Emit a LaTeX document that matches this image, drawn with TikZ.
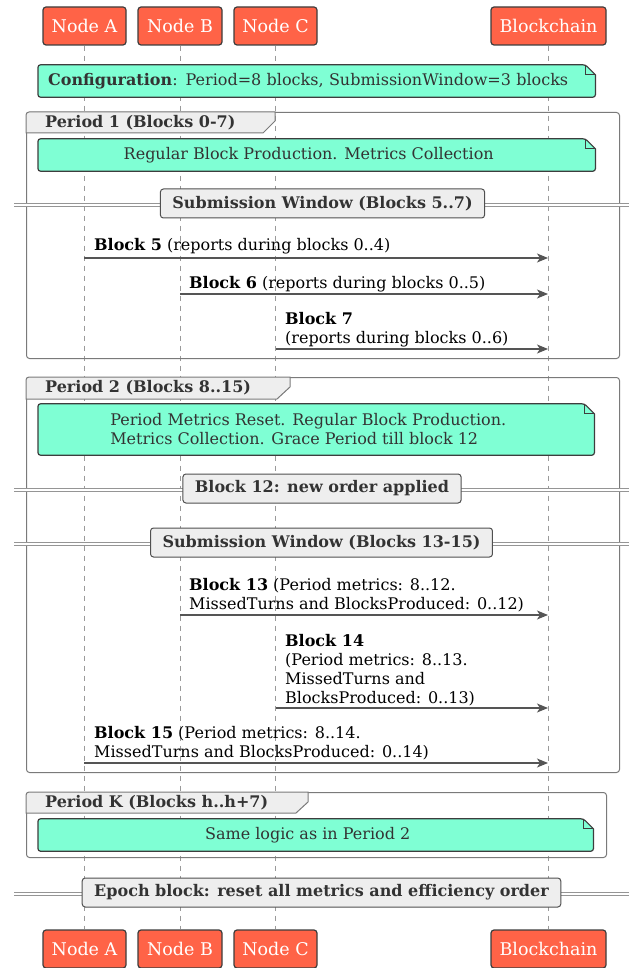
\documentclass[tikz,border=0pt]{standalone}
\usepackage{fontspec}
\setmainfont{DejaVu Serif}
\usetikzlibrary{arrows.meta}
\definecolor{tomatoc}{HTML}{FF6347}
\definecolor{aqua}{HTML}{7FFFD4}
\definecolor{divfill}{HTML}{EEEEEE}
\definecolor{edgec}{HTML}{3D3D3D}
\definecolor{framec}{HTML}{7A7A7A}
\definecolor{lifec}{HTML}{9A9A9A}
\definecolor{txtc}{HTML}{333333}
\definecolor{arrc}{HTML}{555555}
\pgfdeclarelayer{lines}
\pgfdeclarelayer{notebg}
\pgfsetlayers{lines,notebg,main}
% note background: the node covers the text area, the shape reaches 16pt further right
\newcommand\notebg[1]{%
  \begin{pgfonlayer}{notebg}
  \path[fill=aqua,draw=edgec,line width=1.2pt,rounded corners=2.5pt]
    (#1.north west) -- ([xshift=6pt]#1.north east) [sharp corners] -- ([xshift=16pt,yshift=-10pt]#1.north east) [rounded corners=2.5pt] -- ([xshift=16pt]#1.south east) -- (#1.south west) -- cycle;
  \draw[edgec,line width=1.2pt]
    ([xshift=6pt]#1.north east) -- ([xshift=6pt,yshift=-10pt]#1.north east) -- ([xshift=16pt,yshift=-10pt]#1.north east);
  \end{pgfonlayer}}
\begin{document}
\begin{tikzpicture}[x=1pt,y=-1pt,
  part/.style={draw=edgec,line width=1.2pt,fill=tomatoc,rounded corners=3pt,
    text=white,font=\fontsize{17.5}{20}\selectfont,inner sep=0pt,minimum height=38pt},
  life/.style={lifec,line width=0.8pt,dash pattern=on 5pt off 5pt},
  notebox/.style={inner sep=0pt,text=txtc,font=\fontsize{16}{19}\selectfont,anchor=west},
  framebox/.style={draw=framec,line width=1pt,rounded corners=3pt,inner sep=0pt},
  tabshape/.style={draw=framec,line width=1pt,fill=divfill},
  tabtxt/.style={text=txtc,font=\bfseries\fontsize{16}{19}\selectfont,inner sep=0pt,anchor=west},
  divline/.style={draw=framec!80,line width=3.6pt},
  divgap/.style={draw=white,line width=1.6pt},
  divbox/.style={draw=edgec!90,line width=1pt,fill=divfill,rounded corners=3pt,
    text=txtc,font=\bfseries\fontsize{16}{19}\selectfont,inner xsep=12pt,minimum height=29pt},
  msg/.style={arrc,line width=1.2pt,-{Stealth[length=11pt,width=9pt,inset=3pt]}},
  msglbl/.style={anchor=base west,align=left,inner sep=0pt,text=black,
    font=\fontsize{16}{19}\selectfont}
]
\useasboundingbox (0,0) rectangle (629,968);
% participants
\node[part,minimum width=83pt] (A) at (84.5,26) {Node A};
\node[part,minimum width=84pt] (B) at (180,26) {Node B};
\node[part,minimum width=83pt] (C) at (275.5,26) {Node C};
\node[part,minimum width=115pt] (BC) at (548.5,26) {Blockchain};
\node[part,minimum width=83pt] (Ab) at (84.5,949) {Node A};
\node[part,minimum width=84pt] (Bb) at (180,949) {Node B};
\node[part,minimum width=83pt] (Cb) at (275.5,949) {Node C};
\node[part,minimum width=115pt] (BCb) at (548.5,949) {Blockchain};
\begin{pgfonlayer}{lines}
\draw[life] (A.south) -- (Ab.north);
\draw[life] (B.south) -- (Bb.north);
\draw[life] (C.south) -- (Cb.north);
\draw[life] (BC.south) -- (BCb.north);
\end{pgfonlayer}
% configuration note
\node[notebox,minimum width=541pt,minimum height=32pt,text width=521pt,align=left,inner xsep=10pt] (n0) at (38,81)
  {\textbf{Configuration}: Period=8 blocks, SubmissionWindow=3 blocks};
\notebg{n0}
% Period 1
\node[framebox,minimum width=593pt,minimum height=246pt,anchor=north west] (f1) at (26,112) {};
\path[tabshape,rounded corners=3pt] (26,133) -- (26,112) [sharp corners] -- (275,112) -- (275,121) -- (263,133) -- cycle;
\node[tabtxt] (t1) at (45,122.5) {Period 1 (Blocks 0-7)};
\node[notebox,minimum width=541pt,minimum height=32pt] (n1) at (38,155)
  {Regular Block Production. Metrics Collection};
\notebg{n1}
\coordinate (d1l) at (14,205); \coordinate (d1r) at (629,205);
\draw[divline] (d1l) -- (d1r); \draw[divgap] (d1l) -- (d1r);
\node[divbox] (d1) at (322.5,203.5) {Submission Window (Blocks 5..7)};
\coordinate (m5a) at (84,258); \coordinate (m5b) at (548,258);
\draw[msg] (m5a) -- (m5b);
\node[msglbl] (l5) at (94,251) {\textbf{Block 5} (reports during blocks 0..4)};
\coordinate (m6a) at (180,294); \coordinate (m6b) at (548,294);
\draw[msg] (m6a) -- (m6b);
\node[msglbl] (l6) at (189,288) {\textbf{Block 6} (reports during blocks 0..5)};
\coordinate (m7a) at (276,349); \coordinate (m7b) at (548,349);
\draw[msg] (m7a) -- (m7b);
\node[msglbl] (l7) at (285,343) {\textbf{Block 7}\\(reports during blocks 0..6)};
% Period 2
\node[framebox,minimum width=593pt,minimum height=395pt,anchor=north west] (f2) at (26,377) {};
\path[tabshape,rounded corners=3pt] (26,399) -- (26,377) [sharp corners] -- (290,377) -- (290,387) -- (277,399) -- cycle;
\node[tabtxt] (t2) at (45,388) {Period 2 (Blocks 8..15)};
\node[notebox,minimum width=540pt,minimum height=51pt,align=left] (n2) at (38,429.5)
  {Period Metrics Reset. Regular Block Production.\\Metrics Collection. Grace Period till block 12};
\notebg{n2}
\coordinate (d2l) at (14,490); \coordinate (d2r) at (629,490);
\draw[divline] (d2l) -- (d2r); \draw[divgap] (d2l) -- (d2r);
\node[divbox] (d2) at (322,488.5) {Block 12: new order applied};
\coordinate (d3l) at (14,544); \coordinate (d3r) at (629,544);
\draw[divline] (d3l) -- (d3r); \draw[divgap] (d3l) -- (d3r);
\node[divbox] (d3) at (321.5,542.5) {Submission Window (Blocks 13-15)};
\coordinate (m13a) at (180,615); \coordinate (m13b) at (548,615);
\draw[msg] (m13a) -- (m13b);
\node[msglbl] (l13) at (189,609) {\textbf{Block 13} (Period metrics: 8..12.\\MissedTurns and BlocksProduced: 0..12)};
\coordinate (m14a) at (276,708); \coordinate (m14b) at (548,708);
\draw[msg] (m14a) -- (m14b);
\node[msglbl] (l14) at (285,703) {\textbf{Block 14}\\(Period metrics: 8..13.\\MissedTurns and\\BlocksProduced: 0..13)};
\coordinate (m15a) at (84,763); \coordinate (m15b) at (548,763);
\draw[msg] (m15a) -- (m15b);
\node[msglbl] (l15) at (94,757) {\textbf{Block 15} (Period metrics: 8..14.\\MissedTurns and BlocksProduced: 0..14)};
% Period K
\node[framebox,minimum width=580pt,minimum height=65pt,anchor=north west] (f3) at (26,792) {};
\path[tabshape,rounded corners=3pt] (26,813) -- (26,792) [sharp corners] -- (308,792) -- (308,802) -- (296,813) -- cycle;
\node[tabtxt] (t3) at (45,803) {Period K (Blocks h..h+7)};
\node[notebox,minimum width=539pt,minimum height=32pt] (n3) at (38,835)
  {Same logic as in Period 2};
\notebg{n3}
% Epoch
\coordinate (d4l) at (14,894); \coordinate (d4r) at (629,894);
\draw[divline] (d4l) -- (d4r); \draw[divgap] (d4l) -- (d4r);
\node[divbox] (d4) at (321.5,892.5) {Epoch block: reset all metrics and efficiency order};
\end{tikzpicture}
\end{document}
